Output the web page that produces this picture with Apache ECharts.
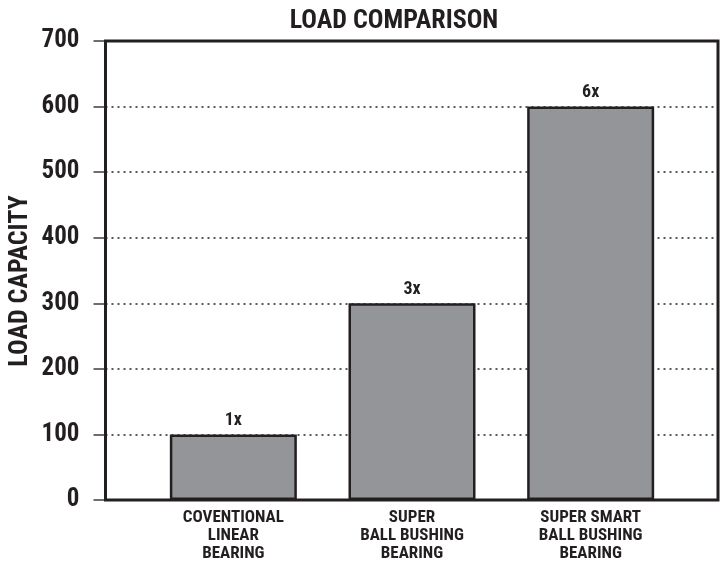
<!DOCTYPE html>
<html>
<head>
<meta charset="utf-8">
<script src="https://cdn.jsdelivr.net/npm/echarts@6/dist/echarts.min.js"></script>
<style>
html,body{margin:0;padding:0;background:#fff;}
#chart{width:721px;height:565px;}
</style>
</head>
<body>
<div id="chart"></div>
<script>
const categories = ['COVENTIONAL\nLINEAR\nBEARING', 'SUPER\nBALL BUSHING\nBEARING', 'SUPER SMART\nBALL BUSHING\nBEARING'];
const loadValues = [100, 300, 600];
const barLabels = ['1x', '3x', '6x'];
const yTicks = [0, 100, 200, 300, 400, 500, 600, 700];

const FONT = '"Liberation Sans Narrow", "Arial Narrow", "Roboto Condensed", sans-serif';
const chart = echarts.init(document.getElementById('chart'));
const gridTop = 41, gridBottom = 65;
chart.setOption({
  animation: false,
  backgroundColor: '#fff',
  title: {
    text: 'LOAD COMPARISON', left: 389, top: 3, textAlign: 'center',
    textStyle: {fontFamily: FONT, fontWeight: 'bold', fontSize: 26, color: '#231f20'}
  },
  grid: [
    {left: 105.5, right: 3, top: gridTop, bottom: gridBottom, outerBoundsMode: 'none', containLabel: false, show: true, borderColor: '#231f20', borderWidth: 3, backgroundColor: 'transparent', z: 10},
    {left: 144, width: 536, top: gridTop, bottom: gridBottom, outerBoundsMode: 'none', containLabel: false}
  ],
  xAxis: [
    {type: 'category', gridIndex: 0, data: categories, show: false},
    {type: 'category', gridIndex: 1, data: categories,
     axisLine: {show: false}, axisTick: {show: false},
     axisLabel: {interval: 0, margin: 9, fontFamily: FONT, fontWeight: 'bold', fontSize: 17, lineHeight: 18, color: '#231f20', align: 'center'}}
  ],
  yAxis: [
    {type: 'value', gridIndex: 0, min: 0, max: 700, interval: 100,
     name: 'LOAD CAPACITY', nameLocation: 'middle', nameGap: 72, nameRotate: 90, nameMoveOverlap: false,
     nameTextStyle: {fontFamily: FONT, fontWeight: 'bold', fontSize: 26, color: '#231f20', padding: [0, 21, 0, 0]},
     axisLine: {show: false},
     axisTick: {show: true, length: 12, lineStyle: {color: '#6d6e71', width: 2}},
     axisLabel: {margin: 26, fontFamily: FONT, fontWeight: 'bold', fontSize: 25, color: '#231f20',
       formatter: v => yTicks.includes(v) ? String(v) : ''},
     splitLine: {show: true, lineStyle: {color: '#58595b', width: 2, type: [2, 4]}}},
    {type: 'value', gridIndex: 1, min: 0, max: 700, interval: 100, show: false, splitLine: {show: false}}
  ],
  series: [{
    type: 'bar', xAxisIndex: 1, yAxisIndex: 1, data: loadValues, barWidth: 127, z: 5,
    itemStyle: {color: '#939598', borderColor: '#231f20', borderWidth: 2.5},
    label: {show: true, position: 'top', distance: 5, fontFamily: FONT, fontWeight: 'bold', fontSize: 18, color: '#231f20',
      formatter: p => barLabels[p.dataIndex]}
  }]
});
</script>
</body>
</html>
